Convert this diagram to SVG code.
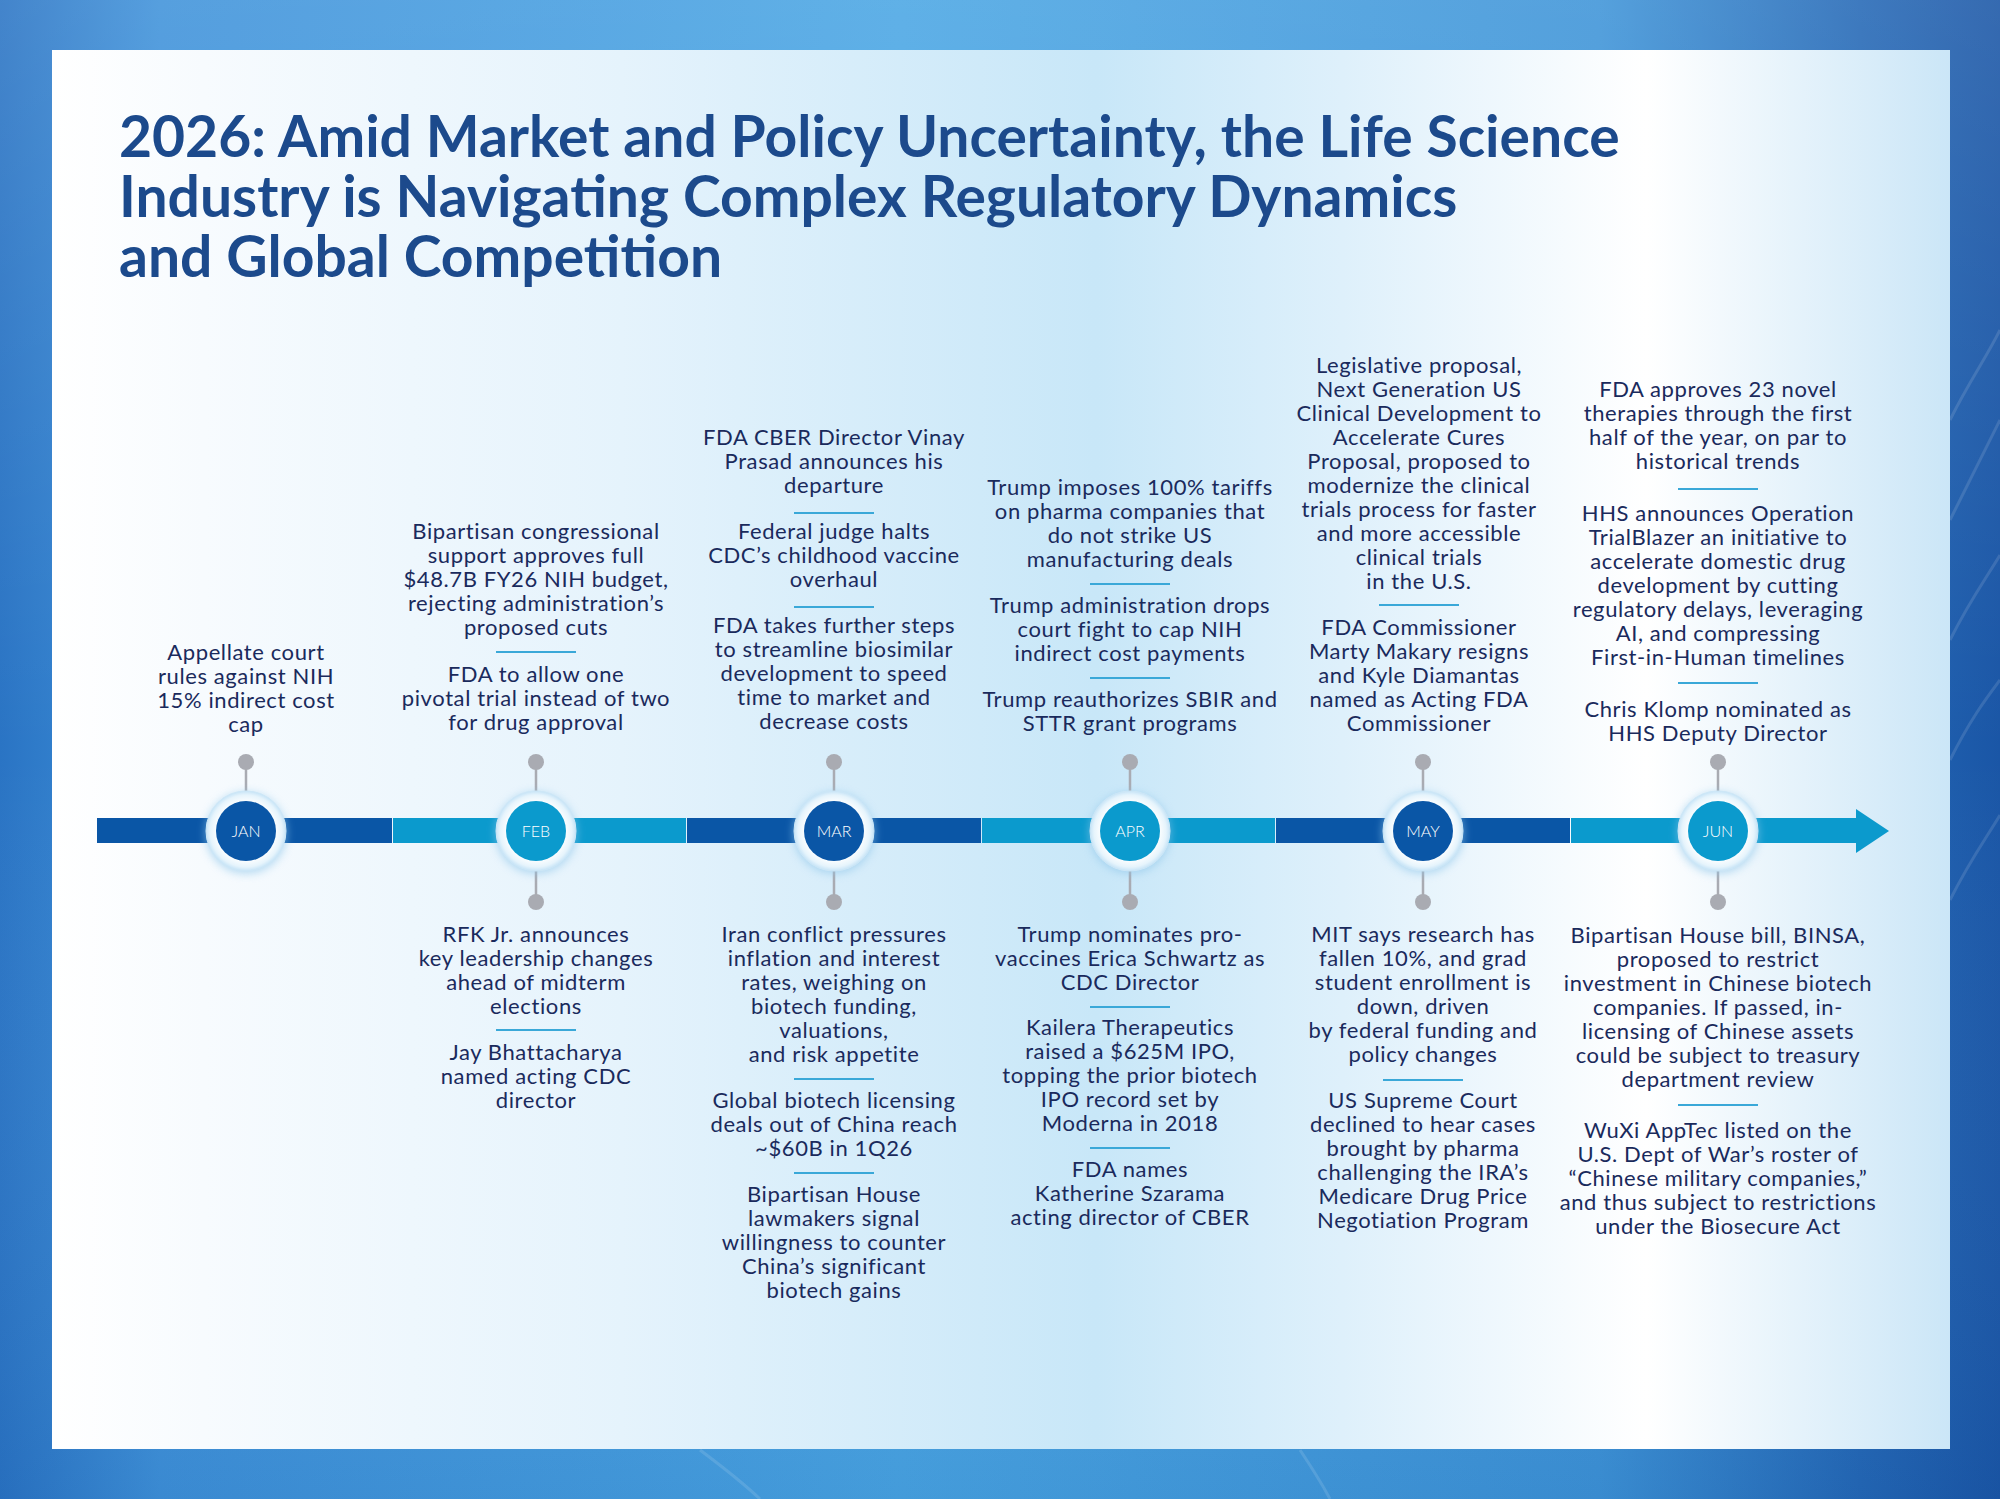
<svg xmlns="http://www.w3.org/2000/svg" width="2000" height="1499" viewBox="0 0 2000 1499">
<defs>
<linearGradient id="bg" x1="0" y1="0" x2="1" y2="0">
<stop offset="0" stop-color="#2a74c4"/>
<stop offset="0.08" stop-color="#3f92da"/>
<stop offset="0.45" stop-color="#4aa6e4"/>
<stop offset="0.8" stop-color="#3e94d8"/>
<stop offset="0.93" stop-color="#2468b6"/>
<stop offset="1" stop-color="#1a56a6"/>
</linearGradient>
<linearGradient id="bgv" x1="0" y1="0" x2="0" y2="1">
<stop offset="0" stop-color="#ffffff" stop-opacity="0.12"/>
<stop offset="0.5" stop-color="#ffffff" stop-opacity="0"/>
<stop offset="1" stop-color="#0a3a80" stop-opacity="0.1"/>
</linearGradient>
<linearGradient id="panel" x1="0" y1="0" x2="1" y2="0">
<stop offset="0" stop-color="#ffffff"/>
<stop offset="0.08" stop-color="#f7fbfe"/>
<stop offset="0.3" stop-color="#e5f3fc"/>
<stop offset="0.55" stop-color="#c8e7f8"/>
<stop offset="0.68" stop-color="#def0fb"/>
<stop offset="0.84" stop-color="#ffffff"/>
<stop offset="1" stop-color="#cbe6f7"/>
</linearGradient>
<radialGradient id="ring" cx="0.5" cy="0.5" r="0.5">
<stop offset="0.7" stop-color="#ffffff"/>
<stop offset="0.9" stop-color="#e6f4fc"/>
<stop offset="1" stop-color="#c7e4f7"/>
</radialGradient>
<filter id="glow" x="-50%" y="-50%" width="200%" height="200%">
<feGaussianBlur stdDeviation="4"/>
</filter>
<style>
.t{font-family:Lato,"Liberation Sans",sans-serif;font-size:22px;letter-spacing:0.6px;fill:#1a2a5c;text-anchor:middle}
.title{font-family:Lato,"Liberation Sans",sans-serif;font-size:57px;font-weight:700;fill:#1c4a8c}
.m{font-family:Lato,"Liberation Sans",sans-serif;font-size:16px;fill:#ffffff;text-anchor:middle;font-weight:300}
.sep{stroke:#3aa8d8;stroke-width:2}
.stem{stroke:#a9abb2;stroke-width:2.5}
.dot{fill:#a9abb2}
.dk{fill:#0a56a6}
.lt{fill:#0b9acd}
</style>
</defs>
<rect x="0" y="0" width="2000" height="1499" fill="url(#bg)"/>
<rect x="0" y="0" width="2000" height="1499" fill="url(#bgv)"/>
<g fill="none" stroke="#ffffff" stroke-opacity="0.12" stroke-width="3">
<path d="M1950 420 C1970 380 1985 360 2000 330"/>
<path d="M1950 520 C1970 480 1985 450 2000 420"/>
<path d="M1950 640 C1970 600 1985 580 2000 555"/>
<path d="M1950 760 C1970 720 1985 700 2000 680"/>
<path d="M1950 900 C1970 860 1985 840 2000 815"/>
<path d="M760 1499 C740 1480 720 1465 700 1450"/>
<path d="M1330 1499 C1320 1480 1310 1465 1300 1450"/>
</g>
<rect x="52" y="50" width="1898" height="1399" fill="url(#panel)"/>

<g id="title">
<text class="title" x="119" y="157">2026: Amid Market and Policy Uncertainty, the Life Science</text>
<text class="title" x="119" y="217">Industry is Navigating Complex Regulatory Dynamics</text>
<text class="title" x="119" y="277">and Global Competition</text>
</g>

<g id="timeline">
<rect class="dk" x="97" y="818" width="295" height="25"/>
<rect class="lt" x="393" y="818" width="293" height="25"/>
<rect class="dk" x="687" y="818" width="294" height="25"/>
<rect class="lt" x="982" y="818" width="293" height="25"/>
<rect class="dk" x="1276" y="818" width="294" height="25"/>
<rect class="lt" x="1571" y="818" width="287" height="25"/>
<polygon class="lt" points="1856,809 1889,831 1856,853"/>
</g>

<g id="connectors">
<line class="stem" x1="246" y1="762" x2="246" y2="792"/><circle class="dot" cx="246" cy="762" r="8"/>
<line class="stem" x1="536" y1="762" x2="536" y2="792"/><circle class="dot" cx="536" cy="762" r="8"/>
<line class="stem" x1="536" y1="871" x2="536" y2="902"/><circle class="dot" cx="536" cy="902" r="8"/>
<line class="stem" x1="834" y1="762" x2="834" y2="792"/><circle class="dot" cx="834" cy="762" r="8"/>
<line class="stem" x1="834" y1="871" x2="834" y2="902"/><circle class="dot" cx="834" cy="902" r="8"/>
<line class="stem" x1="1130" y1="762" x2="1130" y2="792"/><circle class="dot" cx="1130" cy="762" r="8"/>
<line class="stem" x1="1130" y1="871" x2="1130" y2="902"/><circle class="dot" cx="1130" cy="902" r="8"/>
<line class="stem" x1="1423" y1="762" x2="1423" y2="792"/><circle class="dot" cx="1423" cy="762" r="8"/>
<line class="stem" x1="1423" y1="871" x2="1423" y2="902"/><circle class="dot" cx="1423" cy="902" r="8"/>
<line class="stem" x1="1718" y1="762" x2="1718" y2="792"/><circle class="dot" cx="1718" cy="762" r="8"/>
<line class="stem" x1="1718" y1="871" x2="1718" y2="902"/><circle class="dot" cx="1718" cy="902" r="8"/>
</g>

<g id="jan">
<circle cx="246" cy="833" r="41" fill="#8fc6ea" opacity="0.6" filter="url(#glow)"/>
<circle cx="246" cy="831" r="40" fill="url(#ring)" stroke="#cde7f7" stroke-width="1"/>
<circle class="dk" cx="246" cy="831" r="30"/>
<text class="m" x="246" y="837">JAN</text>
</g>
<g id="feb">
<circle cx="536" cy="833" r="41" fill="#8fc6ea" opacity="0.6" filter="url(#glow)"/>
<circle cx="536" cy="831" r="40" fill="url(#ring)" stroke="#cde7f7" stroke-width="1"/>
<circle class="lt" cx="536" cy="831" r="30"/>
<text class="m" x="536" y="837">FEB</text>
</g>
<g id="mar">
<circle cx="834" cy="833" r="41" fill="#8fc6ea" opacity="0.6" filter="url(#glow)"/>
<circle cx="834" cy="831" r="40" fill="url(#ring)" stroke="#cde7f7" stroke-width="1"/>
<circle class="dk" cx="834" cy="831" r="30"/>
<text class="m" x="834" y="837">MAR</text>
</g>
<g id="apr">
<circle cx="1130" cy="833" r="41" fill="#8fc6ea" opacity="0.6" filter="url(#glow)"/>
<circle cx="1130" cy="831" r="40" fill="url(#ring)" stroke="#cde7f7" stroke-width="1"/>
<circle class="lt" cx="1130" cy="831" r="30"/>
<text class="m" x="1130" y="837">APR</text>
</g>
<g id="may">
<circle cx="1423" cy="833" r="41" fill="#8fc6ea" opacity="0.6" filter="url(#glow)"/>
<circle cx="1423" cy="831" r="40" fill="url(#ring)" stroke="#cde7f7" stroke-width="1"/>
<circle class="dk" cx="1423" cy="831" r="30"/>
<text class="m" x="1423" y="837">MAY</text>
</g>
<g id="jun">
<circle cx="1718" cy="833" r="41" fill="#8fc6ea" opacity="0.6" filter="url(#glow)"/>
<circle cx="1718" cy="831" r="40" fill="url(#ring)" stroke="#cde7f7" stroke-width="1"/>
<circle class="lt" cx="1718" cy="831" r="30"/>
<text class="m" x="1718" y="837">JUN</text>
</g>

<g id="jan-top">
<text class="t" x="246" y="660">Appellate court</text>
<text class="t" x="246" y="684">rules against NIH</text>
<text class="t" x="246" y="708">15% indirect cost</text>
<text class="t" x="246" y="732">cap</text>
</g>

<g id="feb-top">
<text class="t" x="536" y="539">Bipartisan congressional</text>
<text class="t" x="536" y="563">support approves full</text>
<text class="t" x="536" y="587">$48.7B FY26 NIH budget,</text>
<text class="t" x="536" y="611">rejecting administration’s</text>
<text class="t" x="536" y="635">proposed cuts</text>
<line class="sep" x1="496" y1="652" x2="576" y2="652"/>
<text class="t" x="536" y="682">FDA to allow one</text>
<text class="t" x="536" y="706">pivotal trial instead of two</text>
<text class="t" x="536" y="730">for drug approval</text>
</g>

<g id="feb-bottom">
<text class="t" x="536" y="942">RFK Jr. announces</text>
<text class="t" x="536" y="966">key leadership changes</text>
<text class="t" x="536" y="990">ahead of midterm</text>
<text class="t" x="536" y="1014">elections</text>
<line class="sep" x1="496" y1="1030" x2="576" y2="1030"/>
<text class="t" x="536" y="1060">Jay Bhattacharya</text>
<text class="t" x="536" y="1084">named acting CDC</text>
<text class="t" x="536" y="1108">director</text>
</g>

<g id="mar-top">
<text class="t" x="834" y="445">FDA CBER Director Vinay</text>
<text class="t" x="834" y="469">Prasad announces his</text>
<text class="t" x="834" y="493">departure</text>
<line class="sep" x1="794" y1="513" x2="874" y2="513"/>
<text class="t" x="834" y="539">Federal judge halts</text>
<text class="t" x="834" y="563">CDC’s childhood vaccine</text>
<text class="t" x="834" y="587">overhaul</text>
<line class="sep" x1="794" y1="607" x2="874" y2="607"/>
<text class="t" x="834" y="633">FDA takes further steps</text>
<text class="t" x="834" y="657">to streamline biosimilar</text>
<text class="t" x="834" y="681">development to speed</text>
<text class="t" x="834" y="705">time to market and</text>
<text class="t" x="834" y="729">decrease costs</text>
</g>

<g id="mar-bottom">
<text class="t" x="834" y="942">Iran conflict pressures</text>
<text class="t" x="834" y="966">inflation and interest</text>
<text class="t" x="834" y="990">rates, weighing on</text>
<text class="t" x="834" y="1014">biotech funding,</text>
<text class="t" x="834" y="1038">valuations,</text>
<text class="t" x="834" y="1062">and risk appetite</text>
<line class="sep" x1="794" y1="1079" x2="874" y2="1079"/>
<text class="t" x="834" y="1108">Global biotech licensing</text>
<text class="t" x="834" y="1132">deals out of China reach</text>
<text class="t" x="834" y="1156">~$60B in 1Q26</text>
<line class="sep" x1="794" y1="1173" x2="874" y2="1173"/>
<text class="t" x="834" y="1202">Bipartisan House</text>
<text class="t" x="834" y="1226">lawmakers signal</text>
<text class="t" x="834" y="1250">willingness to counter</text>
<text class="t" x="834" y="1274">China’s significant</text>
<text class="t" x="834" y="1298">biotech gains</text>
</g>

<g id="apr-top">
<text class="t" x="1130" y="495">Trump imposes 100% tariffs</text>
<text class="t" x="1130" y="519">on pharma companies that</text>
<text class="t" x="1130" y="543">do not strike US</text>
<text class="t" x="1130" y="567">manufacturing deals</text>
<line class="sep" x1="1090" y1="584" x2="1170" y2="584"/>
<text class="t" x="1130" y="613">Trump administration drops</text>
<text class="t" x="1130" y="637">court fight to cap NIH</text>
<text class="t" x="1130" y="661">indirect cost payments</text>
<line class="sep" x1="1090" y1="678" x2="1170" y2="678"/>
<text class="t" x="1130" y="707">Trump reauthorizes SBIR and</text>
<text class="t" x="1130" y="731">STTR grant programs</text>
</g>

<g id="apr-bottom">
<text class="t" x="1130" y="942">Trump nominates pro-</text>
<text class="t" x="1130" y="966">vaccines Erica Schwartz as</text>
<text class="t" x="1130" y="990">CDC Director</text>
<line class="sep" x1="1090" y1="1007" x2="1170" y2="1007"/>
<text class="t" x="1130" y="1035">Kailera Therapeutics</text>
<text class="t" x="1130" y="1059">raised a $625M IPO,</text>
<text class="t" x="1130" y="1083">topping the prior biotech</text>
<text class="t" x="1130" y="1107">IPO record set by</text>
<text class="t" x="1130" y="1131">Moderna in 2018</text>
<line class="sep" x1="1090" y1="1148" x2="1170" y2="1148"/>
<text class="t" x="1130" y="1177">FDA names</text>
<text class="t" x="1130" y="1201">Katherine Szarama</text>
<text class="t" x="1130" y="1225">acting director of CBER</text>
</g>

<g id="may-top">
<text class="t" x="1419" y="373">Legislative proposal,</text>
<text class="t" x="1419" y="397">Next Generation US</text>
<text class="t" x="1419" y="421">Clinical Development to</text>
<text class="t" x="1419" y="445">Accelerate Cures</text>
<text class="t" x="1419" y="469">Proposal, proposed to</text>
<text class="t" x="1419" y="493">modernize the clinical</text>
<text class="t" x="1419" y="517">trials process for faster</text>
<text class="t" x="1419" y="541">and more accessible</text>
<text class="t" x="1419" y="565">clinical trials</text>
<text class="t" x="1419" y="589">in the U.S.</text>
<line class="sep" x1="1379" y1="605" x2="1459" y2="605"/>
<text class="t" x="1419" y="635">FDA Commissioner</text>
<text class="t" x="1419" y="659">Marty Makary resigns</text>
<text class="t" x="1419" y="683">and Kyle Diamantas</text>
<text class="t" x="1419" y="707">named as Acting FDA</text>
<text class="t" x="1419" y="731">Commissioner</text>
</g>

<g id="may-bottom">
<text class="t" x="1423" y="942">MIT says research has</text>
<text class="t" x="1423" y="966">fallen 10%, and grad</text>
<text class="t" x="1423" y="990">student enrollment is</text>
<text class="t" x="1423" y="1014">down, driven</text>
<text class="t" x="1423" y="1038">by federal funding and</text>
<text class="t" x="1423" y="1062">policy changes</text>
<line class="sep" x1="1383" y1="1080" x2="1463" y2="1080"/>
<text class="t" x="1423" y="1108">US Supreme Court</text>
<text class="t" x="1423" y="1132">declined to hear cases</text>
<text class="t" x="1423" y="1156">brought by pharma</text>
<text class="t" x="1423" y="1180">challenging the IRA’s</text>
<text class="t" x="1423" y="1204">Medicare Drug Price</text>
<text class="t" x="1423" y="1228">Negotiation Program</text>
</g>

<g id="jun-top">
<text class="t" x="1718" y="397">FDA approves 23 novel</text>
<text class="t" x="1718" y="421">therapies through the first</text>
<text class="t" x="1718" y="445">half of the year, on par to</text>
<text class="t" x="1718" y="469">historical trends</text>
<line class="sep" x1="1678" y1="489" x2="1758" y2="489"/>
<text class="t" x="1718" y="521">HHS announces Operation</text>
<text class="t" x="1718" y="545">TrialBlazer an initiative to</text>
<text class="t" x="1718" y="569">accelerate domestic drug</text>
<text class="t" x="1718" y="593">development by cutting</text>
<text class="t" x="1718" y="617">regulatory delays, leveraging</text>
<text class="t" x="1718" y="641">AI, and compressing</text>
<text class="t" x="1718" y="665">First-in-Human timelines</text>
<line class="sep" x1="1678" y1="683" x2="1758" y2="683"/>
<text class="t" x="1718" y="717">Chris Klomp nominated as</text>
<text class="t" x="1718" y="741">HHS Deputy Director</text>
</g>

<g id="jun-bottom">
<text class="t" x="1718" y="943">Bipartisan House bill, BINSA,</text>
<text class="t" x="1718" y="967">proposed to restrict</text>
<text class="t" x="1718" y="991">investment in Chinese biotech</text>
<text class="t" x="1718" y="1015">companies. If passed, in-</text>
<text class="t" x="1718" y="1039">licensing of Chinese assets</text>
<text class="t" x="1718" y="1063">could be subject to treasury</text>
<text class="t" x="1718" y="1087">department review</text>
<line class="sep" x1="1678" y1="1105" x2="1758" y2="1105"/>
<text class="t" x="1718" y="1138">WuXi AppTec listed on the</text>
<text class="t" x="1718" y="1162">U.S. Dept of War’s roster of</text>
<text class="t" x="1718" y="1186">“Chinese military companies,”</text>
<text class="t" x="1718" y="1210">and thus subject to restrictions</text>
<text class="t" x="1718" y="1234">under the Biosecure Act</text>
</g>
</svg>
